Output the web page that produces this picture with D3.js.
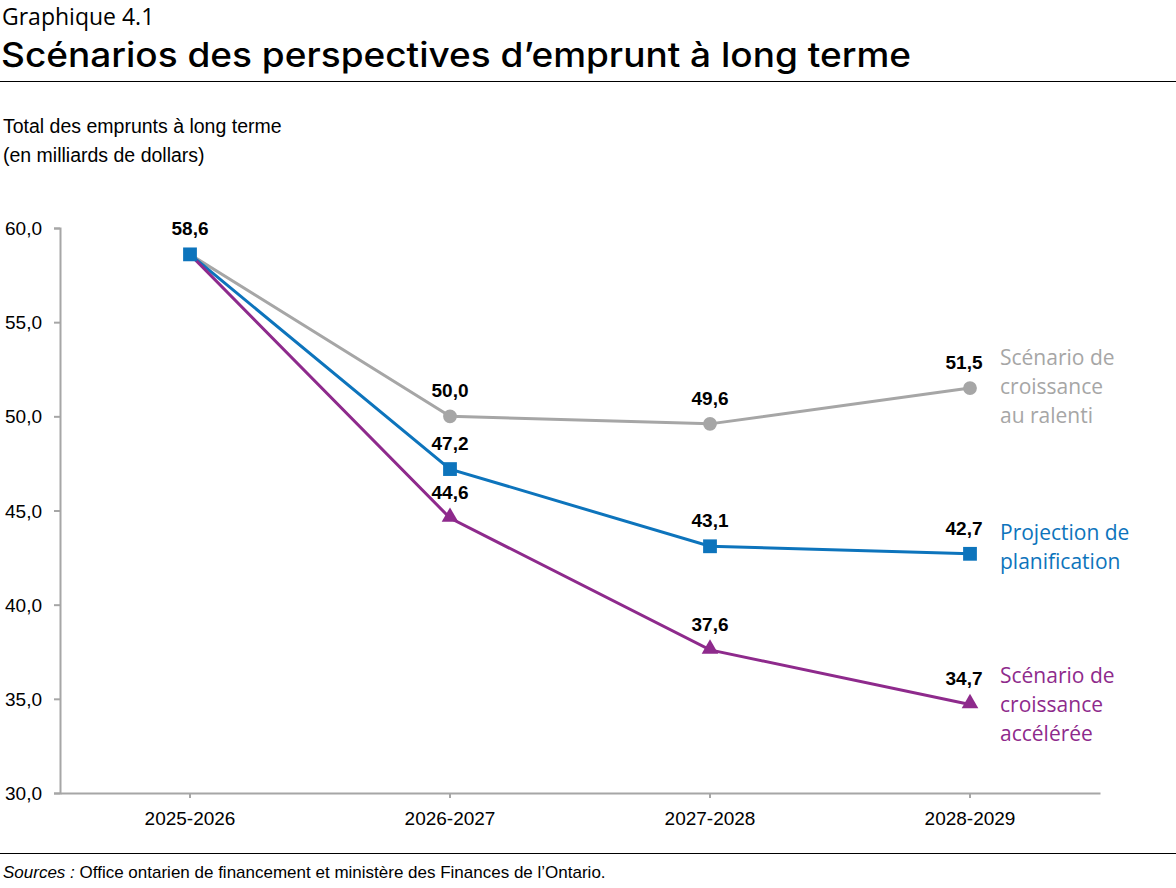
<!DOCTYPE html>
<html><head><meta charset="utf-8">
<script src="https://cdn.jsdelivr.net/npm/d3@7"></script>
<style>
html,body{margin:0;padding:0;background:#fff;}
svg{display:block;}
</style></head>
<body>
<svg id="chart" width="1176" height="888"></svg>
<script>
const categories = ["2025-2026","2026-2027","2027-2028","2028-2029"];
const slowGrowth = [58.6, 50.0, 49.6, 51.5];
const planning = [58.6, 47.2, 43.1, 42.7];
const fastGrowth = [58.6, 44.6, 37.6, 34.7];
const yTicks = [30,35,40,45,50,55,60];
const seriesNames = [["Scénario de","croissance","au ralenti"],["Projection de","planification"],["Scénario de","croissance","accélérée"]];
const seriesColors = ["#a6a6a6","#0d74bc","#8e2a8c"];
const seriesShapes = ["circle","square","triangle"];

const svg = d3.select("#chart");
const narrow = "'Liberation Sans Narrow','Arial Narrow','Liberation Sans',Arial,sans-serif";
const headFont = "'Open Sans',Lato,sans-serif";

svg.append("text").attr("x",2).attr("y",25).attr("font-family",headFont).attr("font-size",23).attr("fill","#000").text("Graphique 4.1");
svg.append("text").attr("x",1).attr("y",67).attr("font-family","Inter,'Open Sans',sans-serif").attr("font-weight",500).attr("font-size",34)
  .attr("textLength",910).attr("lengthAdjust","spacingAndGlyphs").attr("fill","#000").text("Scénarios des perspectives d’emprunt à long terme");
svg.append("line").attr("x1",0).attr("x2",1176).attr("y1",81.5).attr("y2",81.5).attr("stroke","#000").attr("stroke-width",1);

svg.append("text").attr("x",3).attr("y",133).attr("font-family",narrow).attr("font-size",19.5).text("Total des emprunts à long terme");
svg.append("text").attr("x",3).attr("y",162).attr("font-family",narrow).attr("font-size",19.5).text("(en milliards de dollars)");

const x = d3.scaleBand().domain(categories).range([60,1100]);
const y = d3.scaleLinear().domain([30,60]).range([793,228]);
const cx = c => x(c) + x.bandwidth()/2;

const yAxis = svg.append("g").attr("transform","translate(60,0)")
  .call(d3.axisLeft(y).tickValues(yTicks).tickSize(6).tickPadding(12).tickFormat(d => d3.format(".1f")(d).replace(".",",")));
yAxis.select(".domain").attr("stroke","#a6a6a6").attr("stroke-width",2);
yAxis.selectAll(".tick line").attr("stroke","#a6a6a6").attr("stroke-width",2);
yAxis.selectAll(".tick text").attr("font-family",narrow).attr("font-size",19).attr("fill","#000").attr("dy","0.35em");

const xAxis = svg.append("g").attr("transform","translate(0,793)")
  .call(d3.axisBottom(x).tickSize(5).tickPadding(14).tickSizeOuter(0));
xAxis.select(".domain").attr("stroke","#a6a6a6").attr("stroke-width",2);
xAxis.selectAll(".tick line").attr("stroke","#a6a6a6").attr("stroke-width",2);
xAxis.selectAll(".tick text").attr("font-family",narrow).attr("font-size",19).attr("fill","#000");

const allSeries = [slowGrowth, planning, fastGrowth];
const line = d3.line().x((d,i)=>cx(categories[i])).y(d=>y(d));
const symbolMap = {circle:d3.symbolCircle, square:d3.symbolSquare, triangle:d3.symbolTriangle};
const symbolSize = {circle:150, square:190, triangle:120};

allSeries.forEach((vals,si)=>{
  svg.append("path").datum(vals).attr("d",line).attr("fill","none").attr("stroke",seriesColors[si]).attr("stroke-width",3);
});
// markers (shared first point is shown by the planning series' square)
[0,2,1].forEach(si=>{
  const vals = allSeries[si];
  svg.append("g").selectAll("path").data(vals.map((v,i)=>({v,i})).filter(d=>si===1||d.i>0)).join("path")
    .attr("transform",d=>`translate(${cx(categories[d.i])},${y(d.v)+(seriesShapes[si]==="triangle"?-1:0)})`)
    .attr("d",d3.symbol().type(symbolMap[seriesShapes[si]]).size(symbolSize[seriesShapes[si]]))
    .attr("fill",seriesColors[si]);
});

// data labels
allSeries.forEach((vals,si)=>{
  vals.forEach((v,i)=>{
    if (i===0 && si!==1) return;
    const lx = cx(categories[i]) + (i===3 ? -6 : 0);
    svg.append("text").attr("x",lx).attr("y",y(v)-19).attr("text-anchor","middle")
      .attr("font-family",narrow).attr("font-weight","bold").attr("font-size",19).attr("fill","#000")
      .text(d3.format(".1f")(v).replace(".",","));
  });
});

// series labels
const labelY = [[365,394,423],[540,569],[683,712,741]];
seriesNames.forEach((lines,si)=>{
  lines.forEach((t,li)=>{
    svg.append("text").attr("x",1000).attr("y",labelY[si][li]).attr("font-family",headFont)
      .attr("font-size",21).attr("fill",seriesColors[si]).text(t);
  });
});

svg.append("line").attr("x1",0).attr("x2",1176).attr("y1",853.5).attr("y2",853.5).attr("stroke","#000").attr("stroke-width",1);
const src = svg.append("text").attr("x",3).attr("y",878).attr("font-family",narrow).attr("font-size",17).attr("fill","#000");
src.append("tspan").attr("font-style","italic").text("Sources :");
src.append("tspan").text(" Office ontarien de financement et ministère des Finances de l’Ontario.");
</script>
</body></html>
